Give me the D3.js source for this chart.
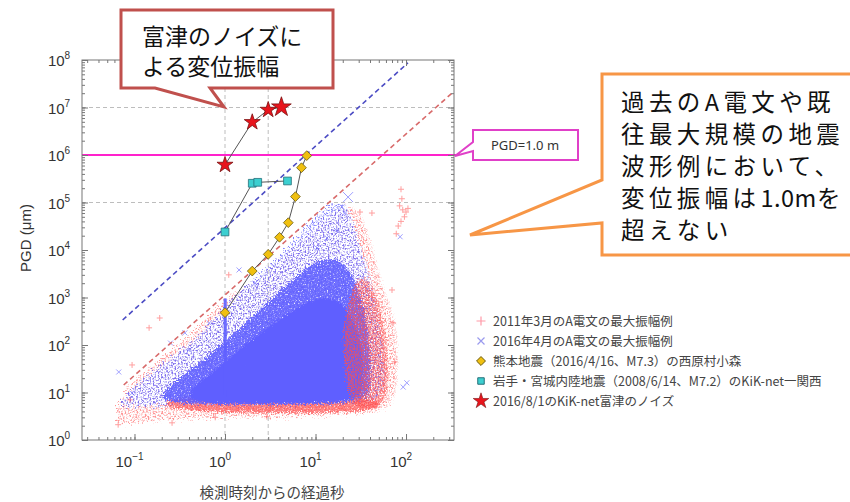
<!DOCTYPE html>
<html>
<head>
<meta charset="utf-8">
<script src="https://cdn.jsdelivr.net/npm/d3@7"></script>
<style>
  body { margin: 0; background: #fff; }
  svg { display: block; }
</style>
</head>
<body>
<svg id="chart" width="850" height="502"></svg>
<script>
// ---- data (seconds after detection, PGD in um) ----
const xTickExps = [-1, 0, 1, 2];
const yTickExps = [0, 1, 2, 3, 4, 5, 6, 7, 8];
const gridX = [1, 3];
const gridY = [1e5, 1e7];
const pgdLimit = 1e6;

const legendLabels = [
  "2011年3月のA電文の最大振幅例",
  "2016年4月のA電文の最大振幅例",
  "熊本地震（2016/4/16、M7.3）の西原村小森",
  "岩手・宮城内陸地震（2008/6/14、M7.2）のKiK-net一関西",
  "2016/8/1のKiK-net富津のノイズ"
];

// 熊本地震 西原村小森
const kumamotoSec = [1, 2, 3, 4, 5, 6, 7, 8];
const kumamotoPGD = [480, 3600, 8100, 18500, 37600, 133000, 540000, 970000];
// 岩手・宮城内陸地震 一関西
const iwateSec = [1, 2, 2.3, 4.9];
const iwatePGD = [24000, 254000, 266000, 284000];
// 富津のノイズ
const futtsuSec = [1, 2, 3, 4.2];
const futtsuPGD = [620000, 4900000, 8900000, 10200000];

// dashed envelope lines (end points)
const blueLine = [[0.074, 336], [105, 8.7e7]];
const redLine = [[0.076, 14.4], [331, 2.1e7]];

// 2011年3月 cloud, read as outlines (outer = sparse, dense = red-dominant zones)
const cloud2011Outer = [[0.058, 2.2], [0.075, 11], [0.15, 32], [0.28, 85], [0.53, 230], [1, 950],
  [2.4, 2500], [5.2, 8500], [11, 36000], [21, 95000], [33, 75000], [47, 6500], [62, 950],
  [80, 360], [86, 48], [80, 6.5], [55, 3.6], [6.7, 3.1], [0.53, 3.1], [0.085, 2.2]];
const cloud2011Dense = [[20, 150], [24, 1300], [33, 3500], [46, 1500], [58, 300], [66, 40],
  [62, 5], [35, 4], [22, 8]];
const cloud2011Base = [[0.2, 8.5], [3, 8], [55, 8.5], [60, 3.8], [3, 3.6], [0.2, 4.2]];
const points2011 = [[88, 190000], [90, 120000], [92, 70000], [100, 63000], [96, 50000], [88, 40000],
  [82, 32000], [105, 75000], [78, 22000], [85, 85000], [0.066, 2.1], [0.089, 7], [0.19, 370],
  [0.145, 230], [1.1, 3000], [0.094, 38], [0.26, 2.3], [0.78, 3], [2.9, 3.1], [31, 63000],
  [42, 60000], [70, 1440], [72, 290], [75, 44]];

// 2016年4月 cloud
const cloud2016Outer = [[0.06, 5], [0.11, 15], [0.25, 52], [0.53, 140], [1, 600], [1.9, 2000],
  [3.6, 6000], [6.7, 18000], [11, 60000], [19, 125000], [26, 60000], [32, 14000], [42, 2500],
  [52, 360], [62, 48], [62, 8.5], [40, 5.6], [6.7, 5.6], [0.53, 5.6], [0.11, 5]];
const cloud2016Dense = [[0.18, 6], [0.22, 12], [0.38, 26], [0.7, 65], [1, 120], [1.7, 280],
  [3, 800], [5.5, 2300], [9, 5200], [15, 7200], [22, 5000], [30, 1600], [37, 300], [41, 60],
  [41, 11], [34, 6], [6, 5.6], [1, 5.6]];
const cloud2016Core = [[0.35, 6.5], [0.45, 14], [0.85, 32], [1.5, 90], [3, 230], [6, 600],
  [12, 1100], [20, 800], [28, 280], [34, 60], [34, 10], [26, 6.5], [4, 6], [1, 6]];
const cloud2016Streak = [[0.965, 950], [1.045, 950], [1.05, 8], [0.96, 8]];
const points2016 = [[22.9, 130000], [19.6, 81000], [21, 60000], [102, 16], [93, 13], [86, 19000],
  [17, 26000], [10.4, 11000], [13.4, 18000], [0.25, 110], [0.4, 78], [0.067, 27], [0.094, 9.7],
  [0.36, 180], [0.67, 290], [1.43, 3800], [2.15, 2000]];

// ---- layout ----
const svg = d3.select("#chart");
const plot = { left: 82, right: 454, top: 60, bottom: 440 };

const x = d3.scaleLog()
  .domain([Math.pow(10, -1.58), Math.pow(10, 2.53)])
  .range([plot.left, plot.right]);
const y = d3.scaleLog()
  .domain([1, 1e8])
  .range([plot.bottom, plot.top]);

const RED = "#ff5050", BLUE = "#5f5fff";
const jp = "'Noto Sans CJK JP', 'Noto Sans', sans-serif";
const latin = "'Liberation Sans', Arial, sans-serif";

const defs = svg.append("defs");
defs.append("clipPath").attr("id", "clip")
  .append("rect")
  .attr("x", plot.left).attr("y", plot.top)
  .attr("width", plot.right - plot.left).attr("height", plot.bottom - plot.top);

// speckle filter: rough edges + noisy alpha, so the outlines look like dense marker clouds
function speckle(id, freq, disp, gain, bias, seed) {
  const f = defs.append("filter").attr("id", id)
    .attr("x", "-10%").attr("y", "-10%").attr("width", "120%").attr("height", "120%");
  f.append("feTurbulence").attr("type", "fractalNoise").attr("baseFrequency", freq)
    .attr("numOctaves", 2).attr("seed", seed).attr("result", "noise");
  f.append("feDisplacementMap").attr("in", "SourceGraphic").attr("in2", "noise")
    .attr("scale", disp).attr("xChannelSelector", "R").attr("yChannelSelector", "G").attr("result", "disp");
  f.append("feColorMatrix").attr("in", "noise").attr("type", "matrix")
    .attr("values", `0 0 0 0 0  0 0 0 0 0  0 0 0 0 0  ${gain} 0 0 0 ${bias}`).attr("result", "mask");
  f.append("feComposite").attr("in", "disp").attr("in2", "mask").attr("operator", "in");
}
speckle("spLight", 0.6, 16, 4, -1.8, 4);
speckle("spDense", 0.7, 10, 3.5, -0.55, 9);
speckle("spRed", 0.7, 12, 3.2, -1.0, 13);
speckle("spCore", 0.9, 6, 3, 0.6, 2);

// ---- grid ----
const grid = svg.append("g").attr("stroke", "#bdbdbd").attr("stroke-dasharray", "4,3");
grid.selectAll("line.gx").data(gridX).join("line")
  .attr("x1", d => x(d)).attr("x2", d => x(d))
  .attr("y1", plot.top).attr("y2", plot.bottom);
grid.selectAll("line.gy").data(gridY).join("line")
  .attr("x1", plot.left).attr("x2", plot.right)
  .attr("y1", d => y(d)).attr("y2", d => y(d));

// ---- clouds ----
const area = d3.line()
  .x(d => x(d[0])).y(d => y(d[1]))
  .curve(d3.curveBasisClosed);
const poly = d3.line().x(d => x(d[0])).y(d => y(d[1])).curve(d3.curveLinearClosed);
const clouds = svg.append("g").attr("clip-path", "url(#clip)");

const light = clouds.append("g").attr("filter", "url(#spLight)");
light.append("path").attr("d", area(cloud2011Outer)).attr("fill", "#ff6a6a").attr("opacity", 0.7);
light.append("path").attr("d", area(cloud2016Outer)).attr("fill", "#6a6aff").attr("opacity", 0.85);

const dense = clouds.append("g").attr("filter", "url(#spDense)");
dense.append("path").attr("d", area(cloud2011Base)).attr("fill", RED).attr("opacity", 0.7);
dense.append("path").attr("d", area(cloud2016Dense)).attr("fill", BLUE).attr("opacity", 0.9);

const core = clouds.append("g").attr("filter", "url(#spCore)");
core.append("path").attr("d", area(cloud2016Core)).attr("fill", BLUE);

clouds.append("path").attr("d", poly(cloud2016Streak)).attr("fill", BLUE).attr("opacity", 0.9);

const redEdge = clouds.append("g").attr("filter", "url(#spRed)");
redEdge.append("path").attr("d", area(cloud2011Dense)).attr("fill", RED).attr("opacity", 0.75);

clouds.selectAll("path.p11").data(points2011).join("path")
  .attr("d", "M-3,0H3M0,-3V3")
  .attr("transform", d => `translate(${x(d[0])},${y(d[1])})`)
  .attr("stroke", RED).attr("stroke-width", 1).attr("opacity", 0.55);
clouds.selectAll("path.p16").data(points2016).join("path")
  .attr("d", (d, i) => i === 0 ? "M-5,-5L5,5M5,-5L-5,5" : "M-2.5,-2.5L2.5,2.5M2.5,-2.5L-2.5,2.5")
  .attr("transform", d => `translate(${x(d[0])},${y(d[1])})`)
  .attr("stroke", BLUE).attr("stroke-width", 1).attr("opacity", 0.6);

// ---- envelope lines ----
const seg = d3.line().x(d => x(d[0])).y(d => y(d[1]));
const env = svg.append("g").attr("clip-path", "url(#clip)").attr("fill", "none")
  .attr("stroke-width", 1.6).attr("stroke-dasharray", "5,3.5");
env.append("path").attr("d", seg(blueLine)).attr("stroke", "#4c4cc4");
env.append("path").attr("d", seg(redLine)).attr("stroke", "#d86a6a");

// PGD = 1.0 m line
svg.append("line")
  .attr("x1", plot.left).attr("x2", plot.right + 3)
  .attr("y1", y(pgdLimit)).attr("y2", y(pgdLimit))
  .attr("stroke", "#ff22cc").attr("stroke-width", 2);

// ---- frame & axes ----
const minorX = [], minorY = [];
for (let e = -2; e <= 2; e++) for (let m = 1; m <= 9; m++) {
  const v = m * Math.pow(10, e);
  if (v >= x.domain()[0] && v <= x.domain()[1]) minorX.push(v);
}
for (let e = 0; e < 8; e++) for (let m = 1; m <= 9; m++) minorY.push(m * Math.pow(10, e));
minorY.push(1e8);
const majorX = xTickExps.map(e => Math.pow(10, e));
const majorY = yTickExps.map(e => Math.pow(10, e));

function axisPair(gen, scale, tr, minor, major) {
  const g = svg.append("g").attr("transform", tr);
  g.call(gen(scale).tickValues(minor).tickSize(-3).tickFormat(""));
  g.append("g").call(gen(scale).tickValues(major).tickSize(-6).tickFormat(""));
  g.selectAll(".domain").remove();
  g.selectAll("line").attr("stroke", "#777");
}
axisPair(d3.axisBottom, x, `translate(0,${plot.bottom})`, minorX, majorX);
axisPair(d3.axisTop, x, `translate(0,${plot.top})`, minorX, majorX);
axisPair(d3.axisLeft, y, `translate(${plot.left},0)`, minorY, majorY);
axisPair(d3.axisRight, y, `translate(${plot.right},0)`, minorY, majorY);

svg.append("rect")
  .attr("x", plot.left).attr("y", plot.top)
  .attr("width", plot.right - plot.left).attr("height", plot.bottom - plot.top)
  .attr("fill", "none").attr("stroke", "#777").attr("stroke-width", 1);

// tick labels 10^n
const xl = svg.append("g").attr("font-family", latin).attr("font-size", 15).attr("fill", "#333");
xTickExps.forEach(e => {
  const t = xl.append("text").attr("x", x(Math.pow(10, e)) - 5).attr("y", 467).attr("text-anchor", "middle");
  t.append("tspan").text("10");
  t.append("tspan").attr("font-size", 10).attr("dy", -7).text(e < 0 ? "\u2212" + (-e) : e);
});
const yl = svg.append("g").attr("font-family", latin).attr("font-size", 15).attr("fill", "#333");
yTickExps.forEach(e => {
  const t = yl.append("text").attr("x", 59).attr("y", y(Math.pow(10, e)) + 6).attr("text-anchor", "middle");
  t.append("tspan").text("10");
  t.append("tspan").attr("font-size", 10).attr("dy", -7).text(e);
});

svg.append("text")
  .attr("transform", "translate(31,238) rotate(-90)")
  .attr("text-anchor", "middle")
  .attr("font-family", latin).attr("font-size", 15).attr("fill", "#333")
  .text("PGD (μm)");
svg.append("text")
  .attr("x", 272).attr("y", 498).attr("text-anchor", "middle")
  .attr("font-family", jp).attr("font-size", 14.5).attr("fill", "#444")
  .text("検測時刻からの経過秒");

// ---- event series ----
function series(secs, vals, shape, fill, stroke, size) {
  const pts = secs.map((s, i) => [s, vals[i]]);
  svg.append("path").attr("d", seg(pts)).attr("fill", "none").attr("stroke", "#555").attr("stroke-width", 1);
  svg.selectAll(null).data(pts).join("path")
    .attr("d", (d, i) => d3.symbol().type(shape).size(typeof size === "function" ? size(i) : size)())
    .attr("transform", d => `translate(${x(d[0])},${y(d[1])})`)
    .attr("fill", fill).attr("stroke", stroke).attr("stroke-width", 0.8);
}
const diamond = { draw(ctx, s) { const r = Math.sqrt(s) / 2; ctx.moveTo(0, -r); ctx.lineTo(r, 0); ctx.lineTo(0, r); ctx.lineTo(-r, 0); ctx.closePath(); } };
series(kumamotoSec, kumamotoPGD, diamond, "#f0c010", "#6a5a10", 95);
series(iwateSec, iwatePGD, d3.symbolSquare, "#3ccfd0", "#26707a", 60);
series(futtsuSec, futtsuPGD, d3.symbolStar, "#e8141c", "#7a1010", i => i === 3 ? 120 : 80);

// ---- legend ----
const lg = svg.append("g").attr("font-family", jp).attr("font-size", 12.5).attr("fill", "#444");
const rowY = [321, 341, 361, 381, 401];
lg.append("path").attr("d", "M-4.5,0H4.5M0,-4.5V4.5").attr("transform", `translate(481,${rowY[0]})`)
  .attr("stroke", "#ff9aa8").attr("stroke-width", 1.2);
lg.append("path").attr("d", "M-3.5,-3.5L3.5,3.5M3.5,-3.5L-3.5,3.5").attr("transform", `translate(481,${rowY[1]})`)
  .attr("stroke", "#9a9aee").attr("stroke-width", 1.2);
lg.append("path").attr("d", d3.symbol().type(diamond).size(80)()).attr("transform", `translate(481,${rowY[2]})`)
  .attr("fill", "#f0c010").attr("stroke", "#6a5a10");
lg.append("path").attr("d", d3.symbol().type(d3.symbolSquare).size(42)()).attr("transform", `translate(481,${rowY[3]})`)
  .attr("fill", "#3ccfd0").attr("stroke", "#26707a");
lg.append("path").attr("d", d3.symbol().type(d3.symbolStar).size(75)()).attr("transform", `translate(481,${rowY[4]})`)
  .attr("fill", "#e8141c").attr("stroke", "#7a1010").attr("stroke-width", 0.6);
lg.selectAll("text").data(legendLabels).join("text")
  .attr("x", 493).attr("y", (d, i) => rowY[i] + 4.5)
  .text(d => d);

// ---- callouts ----
svg.append("path")
  .attr("d", "M121,10H333V88H210L224,107L155,88H121Z")
  .attr("fill", "#fff").attr("stroke", "#c0504d").attr("stroke-width", 3).attr("stroke-linejoin", "miter");
const c1 = svg.append("g").attr("font-family", jp).attr("font-size", 23).attr("fill", "#111");
c1.append("text").attr("x", 142).attr("y", 45).text("富津のノイズに");
c1.append("text").attr("x", 142).attr("y", 75).text("よる変位振幅");

svg.append("path")
  .attr("d", "M473,130H578V160H473V151L455,156L473,142Z")
  .attr("fill", "#fff").attr("stroke", "#e040c8").attr("stroke-width", 2);
svg.append("text").attr("x", 525).attr("y", 150).attr("text-anchor", "middle")
  .attr("font-family", "'Noto Sans', sans-serif").attr("font-size", 13).attr("fill", "#333")
  .text("PGD=1.0 m");

svg.append("path")
  .attr("d", "M602,74H853V255H602V223L470,235L602,180Z")
  .attr("fill", "#fff").attr("stroke", "#f79646").attr("stroke-width", 3);
const c2 = svg.append("g").attr("font-family", jp).attr("font-size", 23.5).attr("fill", "#111")
  .attr("letter-spacing", 4.4);
const calloutLines = [["過去のA電文や既"], ["往最大規模の地震"], ["波形例において、"], ["変位振幅は", "1.0m", "を"], ["超えない"]];
calloutLines.forEach((parts, i) => {
  const t = c2.append("text").attr("x", 621).attr("y", 111 + i * 32);
  parts.forEach(p => t.append("tspan").attr("letter-spacing", /^[0-9.m]+$/.test(p) ? 0.5 : null).text(p));
});
</script>
</body>
</html>
